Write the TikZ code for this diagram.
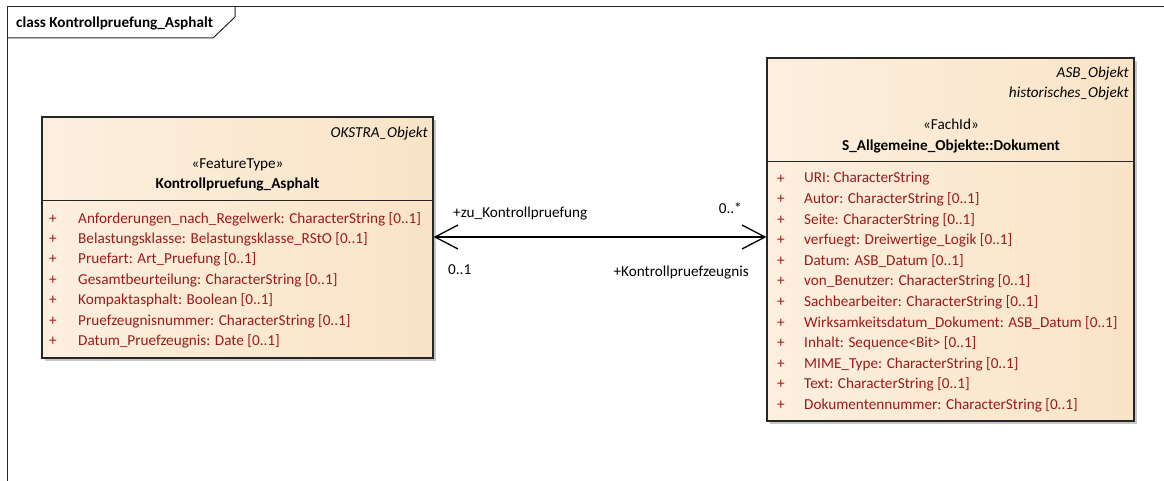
\documentclass[tikz,border=0pt]{standalone}
\usepackage{fontspec}
\setmainfont{Carlito}[Ligatures=NoCommon]
\usetikzlibrary{arrows.meta,shadows}
\definecolor{gA}{HTML}{F9E1C1}
\definecolor{gB}{HTML}{FCF0E0}
\definecolor{gC}{HTML}{F8DEBB}
\definecolor{attr}{HTML}{9B1B1B}
\pgfdeclarehorizontalshading{clsgrad}{100bp}{color(0bp)=(gA); color(22bp)=(gB); color(100bp)=(gC)}
\newcommand\dfont{\fontsize{15.2}{17}\selectfont}
\tikzset{
  classbox/.style={draw=black!85, line width=1.2pt, shading=clsgrad, inner sep=0pt,
    drop shadow={shadow xshift=3pt, shadow yshift=-3pt, fill=black!22, opacity=1}},
  txt/.style={font=\dfont, inner sep=0pt},
  itl/.style={txt, anchor=east, font=\dfont\itshape},
  ttl/.style={txt, font=\dfont\bfseries},
  plus/.style={txt, text=attr},
  att/.style={txt, text=attr, anchor=west},
  lbl/.style={txt},
  frm/.style={draw=black!85, line width=1pt},
  assoc/.style={draw=black, line width=1.3pt, {Straight Barb[length=23pt,width=24pt]}-{Straight Barb[length=23pt,width=24pt]}}
}
\begin{document}
\begin{tikzpicture}[x=1pt,y=-1pt]
\useasboundingbox (0,0) rectangle (1164,481);
% frame
\draw[frm] (7,481) -- (7,7) -- (1164,7);
\draw[frm] (7,38) -- (213,38) -- (235,17) -- (235,7);
\node[txt, anchor=west, font=\dfont\bfseries] (ftitle) at (16,23) {class Kontrollpruefung\_Asphalt};

% left class
\node[classbox, minimum width=391pt, minimum height=241pt] (L) at (237.5,237.5) {};
\draw[draw=black!85, line width=1pt] (L.west |- 0,201) -- (L.east |- 0,201);
\node[itl] (Lp) at (428,134) {OKSTRA\_Objekt};
\node[txt] (Ls) at (237.5,165) {«FeatureType»};
\node[ttl] (Ln) at (237.5,184) {Kontrollpruefung\_Asphalt};
\foreach \t [count=\i from 0] in {
  Anforderungen\_nach\_Regelwerk: CharacterString [0..1],
  Belastungsklasse: Belastungsklasse\_RStO [0..1],
  Pruefart: Art\_Pruefung [0..1],
  Gesamtbeurteilung: CharacterString [0..1],
  Kompaktasphalt: Boolean [0..1],
  Pruefzeugnisnummer: CharacterString [0..1],
  Datum\_Pruefzeugnis: Date [0..1]}{
  \node[plus] (Lplus\i) at (53,219+20.4*\i) {+};
  \node[att] (Lat\i) at (78,219+20.4*\i) {\t};
}

% right class
\node[classbox, minimum width=367pt, minimum height=363pt] (R) at (950.5,239.5) {};
\draw[draw=black!85, line width=1pt] (R.west |- 0,162) -- (R.east |- 0,162);
\node[itl] (Rp1) at (1129,74) {ASB\_Objekt};
\node[itl] (Rp2) at (1129,94) {historisches\_Objekt};
\node[txt] (Rs) at (951,124) {«FachId»};
\node[ttl] (Rn) at (951,146) {S\_Allgemeine\_Objekte::Dokument};
\foreach \t [count=\i from 0] in {
  URI: CharacterString,
  Autor: CharacterString [0..1],
  Seite: CharacterString [0..1],
  verfuegt: Dreiwertige\_Logik [0..1],
  Datum: ASB\_Datum [0..1],
  von\_Benutzer: CharacterString [0..1],
  Sachbearbeiter: CharacterString [0..1],
  Wirksamkeitsdatum\_Dokument: ASB\_Datum [0..1],
  Inhalt: Sequence<Bit> [0..1],
  MIME\_Type: CharacterString [0..1],
  Text: CharacterString [0..1],
  Dokumentennummer: CharacterString [0..1]}{
  \node[plus] (Rplus\i) at (781,179+20.55*\i) {+};
  \node[att] (Rat\i) at (804,179+20.55*\i) {\t};
}

% association
\coordinate (aL) at (L.east |- 0,237);
\coordinate (aR) at (R.west |- 0,237);
\draw[assoc] (aL) -- (aR);
\node[lbl, anchor=west] (r1) at (453,214) {+zu\_Kontrollpruefung};
\node[lbl, anchor=east] (m1) at (742,208) {0..*};
\node[lbl, anchor=west] (m2) at (448,270) {0..1};
\node[lbl, anchor=east] (r2) at (749,273) {+Kontrollpruefzeugnis};
\end{tikzpicture}
\end{document}
